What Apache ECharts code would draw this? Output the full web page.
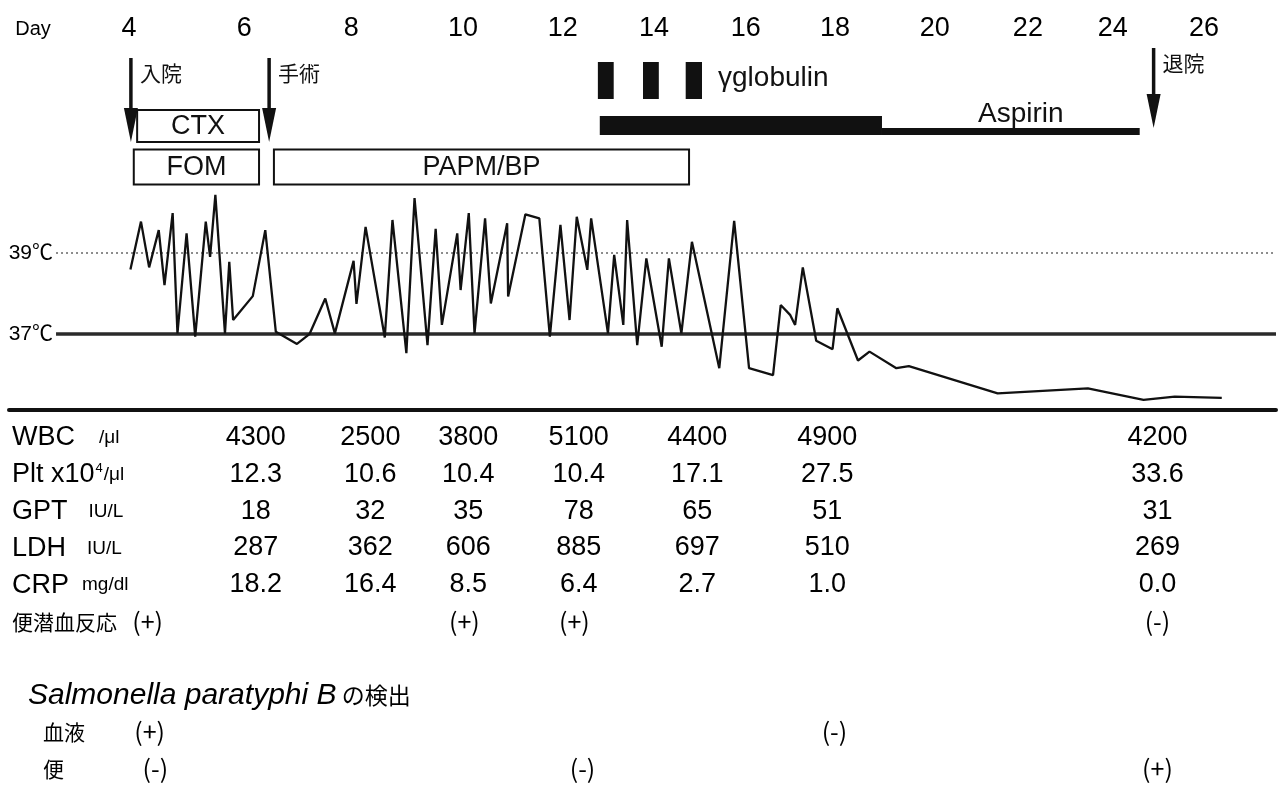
<!DOCTYPE html>
<html>
<head>
<meta charset="utf-8">
<title>Clinical course</title>
<script src="https://cdn.jsdelivr.net/npm/echarts@6/dist/echarts.min.js"></script>
<style>
html, body { margin: 0; padding: 0; background: #fff; }
#main { width: 1279px; height: 801px; }
</style>
</head>
<body>
<div id="main"></div>
<script>
// hospital day labels and where they are printed on the day axis
var dayLabels = ['Day', '4', '6', '8', '10', '12', '14', '16', '18', '20', '22', '24', '26'];
var dayLabelAt = [2.0, 4, 6.4, 8.63, 10.96, 13.04, 14.94, 16.85, 18.71, 20.79, 22.73, 24.5, 26.4];

// events (arrows)
var eventNames = ['入院', '手術', '退院'];
var eventDays = [4.04, 6.92, 25.35];

// drugs drawn as boxes: row 1 = middle, row 2 = lower
var boxDrugs = ['CTX', 'FOM', 'PAPM/BP'];
var boxStart = [4.17, 4.10, 7.02];
var boxEnd = [6.71, 6.71, 15.67];
var boxRow = [1, 2, 2];

// γglobulin doses
var globStart = [13.77, 14.71, 15.60];
var globEnd = [14.10, 15.04, 15.94];

// aspirin: high dose then low dose
var aspirinStart = [13.81, 19.69];
var aspirinEnd = [19.69, 25.06];

// body temperature
var tempDays = [4.03, 4.25, 4.42, 4.62, 4.74, 4.91, 5.01, 5.20, 5.38, 5.60, 5.69, 5.80, 6.00, 6.09, 6.17, 6.58, 6.84, 7.06, 7.50, 7.76,
  8.09, 8.29, 8.68, 8.74, 8.93, 9.33, 9.49, 9.78, 9.95, 10.22, 10.39, 10.52, 10.84, 10.91, 11.08, 11.20, 11.42, 11.54, 11.88, 11.90,
  12.26, 12.55, 12.77, 12.99, 13.18, 13.33, 13.55, 13.63, 13.98, 14.11, 14.30, 14.38, 14.59, 14.78, 15.10, 15.25, 15.51, 15.73, 16.30, 16.61,
  16.92, 17.42, 17.58, 17.78, 17.88, 18.04, 18.32, 18.66, 18.76, 19.19, 19.43, 19.99, 20.25, 22.10, 23.98, 25.14, 25.79, 26.77];
var temps = [38.60, 39.78, 38.65, 39.57, 38.21, 39.99, 37.02, 39.49, 36.94, 39.78, 38.91, 40.44, 37.02, 38.79, 37.35, 37.94, 39.57, 37.06, 36.76, 37.00,
  37.88, 37.02, 38.81, 37.75, 39.65, 36.92, 39.82, 36.53, 40.36, 36.73, 39.60, 37.23, 39.49, 38.09, 39.99, 37.02, 39.86, 37.76, 39.74, 37.93,
  39.96, 39.86, 36.94, 39.70, 37.35, 39.90, 38.59, 39.86, 37.02, 38.96, 37.23, 39.82, 36.73, 38.87, 36.69, 38.87, 37.02, 39.28, 36.16, 39.80,
  36.16, 35.99, 37.72, 37.47, 37.23, 38.65, 36.84, 36.63, 37.64, 36.35, 36.57, 36.16, 36.21, 35.54, 35.66, 35.38, 35.46, 35.43];
var refTemps = [39, 37];

// laboratory data
var labDays = [6.65, 9.04, 11.08, 13.38, 15.85, 18.56, 25.44];
var wbc = [4300, 2500, 3800, 5100, 4400, 4900, 4200];
var plt = [12.3, 10.6, 10.4, 10.4, 17.1, 27.5, 33.6];
var gpt = [18, 32, 35, 78, 65, 51, 31];
var ldh = [287, 362, 606, 885, 697, 510, 269];
var crp = [18.2, 16.4, 8.5, 6.4, 2.7, 1.0, 0.0];

// qualitative results
var occultDays = [4.40, 11.0, 13.29, 25.44];
var occult = ['(+)', '(+)', '(+)', '(-)'];
var bloodDays = [4.44, 18.71];
var blood = ['(+)', '(-)'];
var stoolDays = [4.56, 13.46, 25.44];
var stool = ['(-)', '(-)', '(+)'];

var tableRows = ['WBC', 'Plt', 'GPT', 'LDH', 'CRP', 'occult', 'gap', 'salm', 'blood', 'stool'];

var LATIN = 'Liberation Sans';
var CJK = 'Noto Sans CJK JP';
var INK = '#111';

var rowText = {
  WBC: '{n|WBC}{u|/μl}',
  Plt: '{n|Plt x10}{sup|4}{u0|/μl}',
  GPT: '{n|GPT}{u2|IU/L}',
  LDH: '{n|LDH}{u2|IU/L}',
  CRP: '{n|CRP}{u3|mg/dl}',
  occult: '{j|便潜血反応}',
  gap: '',
  salm: '{i|Salmonella paratyphi B}{j2| の検出}',
  blood: '{s|血液}',
  stool: '{s|便}'
};

var labRows = [wbc, plt, gpt, ldh, crp];
var labDecimals = [0, 1, 0, 0, 1];
var labData = [];
labRows.forEach(function (arr, r) {
  arr.forEach(function (v, i) {
    labData.push({ name: v.toFixed(labDecimals[r]), value: [labDays[i], r] });
  });
});

var resultData = [];
function addResults(days, vals, rowKey) {
  var r = tableRows.indexOf(rowKey);
  days.forEach(function (d, i) { resultData.push({ name: vals[i], value: [d, r] }); });
}
addResults(occultDays, occult, 'occult');
addResults(bloodDays, blood, 'blood');
addResults(stoolDays, stool, 'stool');

var xBase = { type: 'value', min: 1.5, max: 27.9, axisLine: { show: false }, axisTick: { show: false },
  splitLine: { show: false }, axisLabel: { show: false } };

function renderArrow(params, api) {
  var i = params.dataIndex;
  var x = api.coord([api.value(0), 0])[0];
  var r0 = api.coord([api.value(0), 0])[1];
  var r1 = api.coord([api.value(0), 1])[1];
  var lift = i === 2 ? 10 : 0;
  var top = r0 - 22 - lift;
  var tip = r1 + 18 - lift * 1.4;
  var head = 34;
  return {
    type: 'group',
    children: [
      { type: 'line', shape: { x1: x, y1: top, x2: x, y2: tip - head + 2 }, style: { stroke: INK, lineWidth: 3.5 } },
      { type: 'polygon', shape: { points: [[x - 7, tip - head], [x + 7, tip - head], [x, tip]] }, style: { fill: INK } },
      { type: 'text', x: x + 9, y: top + 15, style: { text: eventNames[i], fill: INK, fontSize: 21, fontFamily: CJK, align: 'left', verticalAlign: 'middle' } }
    ]
  };
}

function renderBox(params, api) {
  var i = params.dataIndex;
  var p0 = api.coord([api.value(0), api.value(2)]);
  var p1 = api.coord([api.value(1), api.value(2)]);
  var h = boxRow[i] === 1 ? 32 : 35;
  var cy = p0[1] + (boxRow[i] === 1 ? 2 : -1);
  return {
    type: 'group',
    children: [
      { type: 'rect', shape: { x: p0[0], y: cy - h / 2, width: p1[0] - p0[0], height: h }, style: { fill: '#fff', stroke: INK, lineWidth: 2 } },
      { type: 'text', x: (p0[0] + p1[0]) / 2, y: cy + 1, style: { text: boxDrugs[i], fill: INK, fontSize: 27, fontFamily: LATIN, align: 'center', verticalAlign: 'middle' } }
    ]
  };
}

function renderGlob(params, api) {
  var i = params.dataIndex;
  var p0 = api.coord([api.value(0), 0]);
  var p1 = api.coord([api.value(1), 0]);
  var children = [
    { type: 'rect', shape: { x: p0[0], y: p0[1] - 18, width: p1[0] - p0[0], height: 37 }, style: { fill: INK } }
  ];
  if (i === globStart.length - 1) {
    children.push({ type: 'text', x: p1[0] + 16, y: p0[1] - 2, style: { text: 'γglobulin', fill: INK, fontSize: 28, fontFamily: LATIN, align: 'left', verticalAlign: 'middle' } });
  }
  return { type: 'group', children: children };
}

function renderAspirin(params, api) {
  var i = params.dataIndex;
  var p0 = api.coord([api.value(0), 1]);
  var p1 = api.coord([api.value(1), 1]);
  var cy = p0[1];
  var topY = i === 0 ? cy - 8 : cy + 4;
  var children = [
    { type: 'rect', shape: { x: p0[0], y: topY, width: p1[0] - p0[0], height: cy + 11 - topY }, style: { fill: INK } }
  ];
  if (i === 1) {
    children.push({ type: 'text', x: (p0[0] + p1[0]) / 2 + 10, y: cy + 4, style: { text: 'Aspirin', fill: INK, fontSize: 28, fontFamily: LATIN, align: 'center', verticalAlign: 'bottom' } });
  }
  return { type: 'group', children: children };
}

var cellLabel = {
  show: true, position: [0, 0], align: 'center', verticalAlign: 'middle',
  formatter: '{b}', color: '#000', textBorderWidth: 0
};

var option = {
  animation: false,
  backgroundColor: '#fff',
  grid: [
    { left: 9, right: 3, top: 58, height: 132 },
    { left: 9, right: 3, top: 172.2, height: 243 },
    { left: 9, right: 3, top: 419.6, height: 368 }
  ],
  xAxis: [
    Object.assign({}, xBase, {
      gridIndex: 0, position: 'top',
      axisLabel: {
        show: true, customValues: dayLabelAt, margin: 16, color: '#000', fontSize: 27, fontFamily: LATIN,
        showMinLabel: true, showMaxLabel: true,
        formatter: function (v) {
          var i = dayLabelAt.indexOf(v);
          if (i === 0) return '{d|Day}';
          return i > 0 ? dayLabels[i] : '';
        },
        rich: { d: { fontSize: 20, fontFamily: LATIN, color: '#000', padding: [0, 0, 3, 0] } }
      }
    }),
    Object.assign({}, xBase, { gridIndex: 1 }),
    Object.assign({}, xBase, {
      gridIndex: 2, position: 'top', offset: 9.6,
      axisLine: { show: true, lineStyle: { color: INK, width: 4 } }
    })
  ],
  yAxis: [
    { gridIndex: 0, type: 'category', data: ['upper', 'middle', 'lower'], inverse: true, show: false },
    { gridIndex: 1, type: 'value', min: 35, max: 41, show: false, splitLine: { show: false } },
    {
      gridIndex: 2, type: 'category', data: tableRows, inverse: true,
      axisLine: { show: false }, axisTick: { show: false }, splitLine: { show: false },
      axisLabel: {
        inside: true, margin: 3, align: 'left', color: '#000',
        formatter: function (v) { return rowText[v]; },
        rich: {
          n: { fontSize: 27, fontFamily: LATIN, color: '#000' },
          u: { fontSize: 19, fontFamily: LATIN, color: '#000', padding: [0, 0, 0, 24] },
          u0: { fontSize: 19, fontFamily: LATIN, color: '#000' },
          u2: { fontSize: 19, fontFamily: LATIN, color: '#000', padding: [0, 0, 0, 21] },
          u3: { fontSize: 19, fontFamily: LATIN, color: '#000', padding: [0, 0, 0, 13] },
          sup: { fontSize: 13, fontFamily: LATIN, color: '#000', padding: [0, 1, 12, 1] },
          j: { fontSize: 21, fontFamily: CJK, color: '#000' },
          i: { fontSize: 30, fontFamily: LATIN, fontStyle: 'italic', color: '#000', padding: [0, 0, 0, 16] },
          j2: { fontSize: 23, fontFamily: CJK, color: '#000' },
          s: { fontSize: 21, fontFamily: CJK, color: '#000', padding: [0, 0, 0, 31] }
        }
      }
    }
  ],
  series: [
    {
      type: 'custom', xAxisIndex: 0, yAxisIndex: 0, silent: true,
      data: eventDays.map(function (d, i) { return [d, i]; }),
      renderItem: renderArrow
    },
    {
      type: 'custom', xAxisIndex: 0, yAxisIndex: 0, silent: true,
      data: boxDrugs.map(function (n, i) { return [boxStart[i], boxEnd[i], boxRow[i]]; }),
      renderItem: renderBox
    },
    {
      type: 'custom', xAxisIndex: 0, yAxisIndex: 0, silent: true,
      data: globStart.map(function (s, i) { return [s, globEnd[i]]; }),
      renderItem: renderGlob
    },
    {
      type: 'custom', xAxisIndex: 0, yAxisIndex: 0, silent: true,
      data: aspirinStart.map(function (s, i) { return [s, aspirinEnd[i]]; }),
      renderItem: renderAspirin
    },
    {
      name: '体温', type: 'line', xAxisIndex: 1, yAxisIndex: 1,
      data: tempDays.map(function (d, i) { return [d, temps[i]]; }),
      showSymbol: false, lineStyle: { color: INK, width: 2.3 }, z: 5,
      markLine: {
        silent: true, symbol: 'none', animation: false,
        label: { position: 'start', distance: 3, color: '#000', fontSize: 21, fontFamily: LATIN + ', ' + CJK },
        data: [
          [
            { coord: [2.48, refTemps[0]], lineStyle: { type: [2, 3], color: '#666', width: 1.5 }, label: { formatter: refTemps[0] + '℃' } },
            { coord: [27.9, refTemps[0]] }
          ],
          [
            { coord: [2.48, refTemps[1]], lineStyle: { type: 'solid', color: '#2a2a2a', width: 3.5 }, label: { formatter: refTemps[1] + '℃' } },
            { coord: [27.9, refTemps[1]] }
          ]
        ]
      }
    },
    {
      type: 'scatter', xAxisIndex: 2, yAxisIndex: 2, silent: true,
      symbolSize: 1, itemStyle: { color: 'rgba(0,0,0,0)', opacity: 1 },
      data: labData,
      label: Object.assign({ fontSize: 27, fontFamily: LATIN }, cellLabel)
    },
    {
      type: 'scatter', xAxisIndex: 2, yAxisIndex: 2, silent: true,
      symbolSize: 1, itemStyle: { color: 'rgba(0,0,0,0)', opacity: 1 },
      data: resultData,
      label: Object.assign({ fontSize: 25, fontFamily: CJK }, cellLabel)
    }
  ]
};

var myChart = echarts.init(document.getElementById('main'));
myChart.setOption(option);
</script>
</body>
</html>
